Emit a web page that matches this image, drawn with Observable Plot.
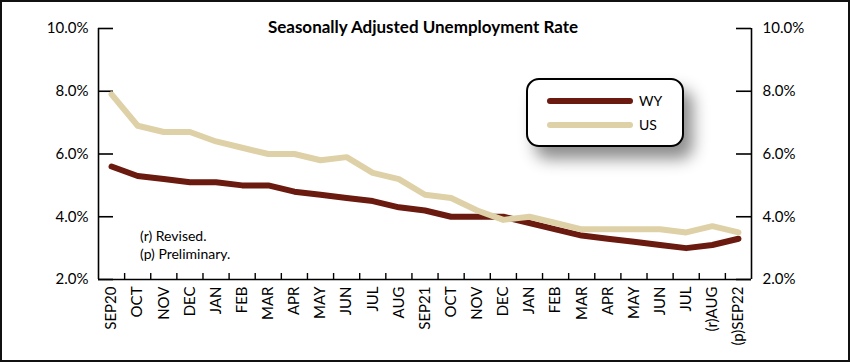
<!DOCTYPE html>
<html><head><meta charset="utf-8">
<script src="https://cdn.jsdelivr.net/npm/d3@7"></script>
<script src="https://cdn.jsdelivr.net/npm/@observablehq/plot@0.6"></script>
<style>
html,body{margin:0;padding:0;background:#fff;}
#wrap{position:relative;width:850px;height:362px;overflow:hidden;font-family:Lato,sans-serif;color:#000;}
#chart{position:absolute;left:0;top:0;}
#frame{position:absolute;left:0;top:0;width:850px;height:362px;box-sizing:border-box;border:2px solid #111;pointer-events:none;}
#title{position:absolute;top:16px;left:0;width:846px;text-align:center;font-weight:700;font-size:17px;}
#legend{position:absolute;left:526px;top:78px;width:158px;height:69px;box-sizing:border-box;border:2px solid #000;border-radius:13px;background:#fff;box-shadow:9px 12px 16px rgba(0,0,0,0.45);}
.sw{position:absolute;left:19px;width:86px;height:6px;border-radius:3px;}
.lt{position:absolute;left:111px;font-size:14px;line-height:16px;}
.note{position:absolute;left:140px;font-size:14px;line-height:16px;}
</style></head>
<body>
<div id="wrap">
  <div id="chart"></div>
  <div id="title">Seasonally Adjusted Unemployment Rate</div>
  <div id="legend"></div>
  <div class="note" style="top:228px">(r) Revised.</div>
  <div class="note" style="top:246px">(p) Preliminary.</div>
  <div id="frame"></div>
</div>
<script>
const months = ["SEP20","OCT","NOV","DEC","JAN","FEB","MAR","APR","MAY","JUN","JUL","AUG","SEP21","OCT","NOV","DEC","JAN","FEB","MAR","APR","MAY","JUN","JUL","(r)AUG","(p)SEP22"];
const wyRate = [5.6,5.3,5.2,5.1,5.1,5.0,5.0,4.8,4.7,4.6,4.5,4.3,4.2,4.0,4.0,4.0,3.8,3.6,3.4,3.3,3.2,3.1,3.0,3.1,3.3];
const usRate = [7.9,6.9,6.7,6.7,6.4,6.2,6.0,6.0,5.8,5.9,5.4,5.2,4.7,4.6,4.2,3.9,4.0,3.8,3.6,3.6,3.6,3.6,3.5,3.7,3.5];
const seriesNames = ["WY","US"];
const yTicks = [2,4,6,8,10];
const seriesColors = ["#6b1a0f","#dfd1a7"];

const W = 850, H = 362, mL = 98, mR = 99, mT = 28, mB = 83;
const innerW = W - mL - mR, innerH = H - mT - mB;
const idx = d3.range(months.length);
const boundaries = d3.range(1, months.length).map(i => i - 0.5);
const wyRows = idx.map(i => ({i, v: wyRate[i]}));
const usRows = idx.map(i => ({i, v: usRate[i]}));
const fmt = d => d.toFixed(1) + "%";

const chart = Plot.plot({
  width: W, height: H,
  marginLeft: mL, marginRight: mR, marginTop: mT, marginBottom: mB,
  style: {fontFamily: "Lato, sans-serif", fontSize: "15px", color: "#000", background: "transparent"},
  x: {type: "linear", domain: [-0.5, months.length - 0.5]},
  y: {domain: [2, 10]},
  marks: [
    Plot.ruleX([-0.5, months.length - 0.5], {stroke: "#000", strokeWidth: 1.6}),
    Plot.ruleY([2], {stroke: "#000", strokeWidth: 1.6}),
    Plot.tickY(yTicks, {y: d => d, insetRight: innerW - 15, stroke: "#000", strokeWidth: 1.6}),
    Plot.tickY(yTicks, {y: d => d, insetLeft: innerW - 15, stroke: "#000", strokeWidth: 1.6}),
    Plot.tickX(boundaries, {x: d => d, insetTop: innerH - 6, stroke: "#000", strokeWidth: 1.4}),
    Plot.axisY(yTicks, {anchor: "left", tickSize: 0, tickPadding: 10, tickFormat: fmt, label: null, fontSize: 15}),
    Plot.axisY(yTicks, {anchor: "right", tickSize: 0, tickPadding: 11, tickFormat: fmt, label: null, fontSize: 15}),
    Plot.axisX(idx, {anchor: "bottom", tickSize: 0, tickPadding: 7, tickFormat: i => months[i], tickRotate: -90, label: null, fontSize: 15}),
    Plot.line(wyRows, {x: "i", y: "v", stroke: seriesColors[0], strokeWidth: 6, strokeLinecap: "round", strokeLinejoin: "round"}),
    Plot.line(usRows, {x: "i", y: "v", stroke: seriesColors[1], strokeWidth: 6, strokeLinecap: "round", strokeLinejoin: "round"})
  ]
});
document.getElementById("chart").appendChild(chart);

const legend = document.getElementById("legend");
seriesNames.forEach((name, k) => {
  const top = 18 + k * 24;
  const sw = document.createElement("div");
  sw.className = "sw"; sw.style.top = top + "px"; sw.style.background = seriesColors[k];
  const lt = document.createElement("div");
  lt.className = "lt"; lt.style.top = (top - 5) + "px"; lt.textContent = name;
  legend.appendChild(sw); legend.appendChild(lt);
});
</script>
</body></html>
